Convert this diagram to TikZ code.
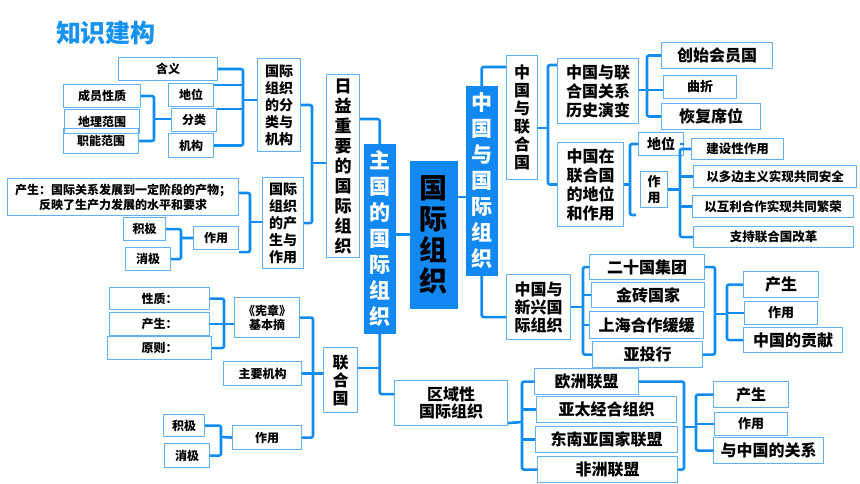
\documentclass[tikz,border=0pt]{standalone}
\usepackage{fontspec}
\setmainfont{Noto Sans CJK SC}
\usepackage{tikz}
\usetikzlibrary{calc}
\definecolor{linkblue}{RGB}{14,140,242}
\definecolor{boxline}{RGB}{96,178,246}
\definecolor{fillblue}{RGB}{18,136,242}
\definecolor{titleblue}{RGB}{22,146,242}
\newcommand{\zfs}[2]{\fontsize{#1}{#2}\selectfont\bfseries}

\begin{document}
\begin{tikzpicture}[x=1pt,y=-1pt,
  box/.style={draw=boxline,line width=1.1pt,inner sep=0pt,anchor=north west,align=center},
  bbox/.style={fill=fillblue,draw=fillblue,inner sep=0pt,anchor=north west,align=center},
  link/.style={draw=linkblue,line width=2.6pt,rounded corners=2pt}]
\useasboundingbox (0,0) rectangle (860,484);
\fill[white] (0,0) rectangle (860,484);

\node[font=\zfs{25}{28},text=titleblue] (title) at (106,33) {知识建构};

% left top
\node[box,minimum width=99,minimum height=23,font=\zfs{12}{14}] (hanyi) at (118,57) {含义};
\node[box,minimum width=45,minimum height=23,font=\zfs{12}{14}] (diwei1) at (168,83) {地位};
\node[box,minimum width=45,minimum height=23,font=\zfs{12}{14}] (fenlei) at (171,108) {分类};
\node[box,minimum width=45,minimum height=24,font=\zfs{12}{14}] (jigou1) at (168,133) {机构};
\node[box,minimum width=77,minimum height=23,font=\zfs{12}{14}] (chengyuan) at (63,84) {成员性质};
\node[box,minimum width=75,minimum height=24,font=\zfs{12}{14}] (dili) at (64,109) {地理范围};
\node[box,minimum width=75,minimum height=25,font=\zfs{12}{14}] (zhineng) at (63,128) {职能范围};
\node[box,minimum width=43,minimum height=93,font=\zfs{14}{17}] (fenleiJG) at (257,58) {国际\\组织\\的分\\类与\\机构};
\node[box,minimum width=33,minimum height=183,font=\zfs{17}{20}] (rizhong) at (326,74) {日\\益\\重\\要\\的\\国\\际\\组\\织};
\node[box,minimum width=231,minimum height=37,font=\zfs{12}{15}] (chansheng1) at (7,178) {产生：国际关系发展到一定阶段的产物；\\反映了生产力发展的水平和要求};
\node[box,minimum width=42,minimum height=23,font=\zfs{12}{14}] (jiji1) at (123,217) {积极};
\node[box,minimum width=45,minimum height=23,font=\zfs{12}{14}] (xiaoji1) at (125,247) {消极};
\node[box,minimum width=45,minimum height=23,font=\zfs{12}{14}] (zuoyong1) at (193,226) {作用};
\node[box,minimum width=41,minimum height=91,font=\zfs{14}{17}] (chanshengZY) at (262,177) {国际\\组织\\的产\\生与\\作用};

% center
\node[bbox,minimum width=31,minimum height=189,text=white,font=\zfs{21}{26}] (zhuguo) at (364,144) {主\\国\\的\\国\\际\\组\\织};
\node[bbox,minimum width=47,minimum height=147,text=black,font=\zfs{28}{31}] (center) at (410,161) {国\\际\\组\\织};
\node[bbox,minimum width=31,minimum height=189,text=white,font=\zfs{21}{26}] (zgyg) at (466,86) {中\\国\\与\\国\\际\\组\\织};
\node[box,minimum width=31,minimum height=124,font=\zfs{16}{18}] (zglhg) at (506,55) {中\\国\\与\\联\\合\\国};
\node[box,minimum width=64,minimum height=65,font=\zfs{16}{18}] (xinxing) at (506,274) {中国与\\新兴国\\际组织};

% left bottom
\node[box,minimum width=34,minimum height=65,font=\zfs{16}{18}] (lhg) at (323,347) {联\\合\\国};
\node[box,minimum width=113,minimum height=45,font=\zfs{16}{17}] (quyu) at (394,380) {区域性\\国际组织};
\node[box,minimum width=100,minimum height=22,font=\zfs{12}{14}] (xingzhi) at (109,287) {性质：};
\node[box,minimum width=100,minimum height=23,font=\zfs{12}{14}] (chansheng2) at (109,312) {产生：};
\node[box,minimum width=104,minimum height=23,font=\zfs{12}{14}] (yuanze) at (107,336) {原则：};
\node[box,minimum width=65,minimum height=40,font=\zfs{12}{14}] (xianzhang) at (234,297) {《宪章》\\基本摘};
\node[box,minimum width=78,minimum height=24,font=\zfs{12}{14}] (zhuyao) at (223,361) {主要机构};
\node[box,minimum width=41,minimum height=22,font=\zfs{12}{14}] (jiji2) at (163,414) {积极};
\node[box,minimum width=45,minimum height=24,font=\zfs{12}{14}] (xiaoji2) at (164,443) {消极};
\node[box,minimum width=69,minimum height=24,font=\zfs{12}{14}] (zuoyong2) at (232,425) {作用};

% right top
\node[box,minimum width=81,minimum height=65,font=\zfs{16}{19}] (lishi) at (557,58) {中国与联\\合国关系\\历史演变};
\node[box,minimum width=111,minimum height=26,font=\zfs{16}{18}] (chuangshi) at (661,42) {创始会员国};
\node[box,minimum width=73,minimum height=23,font=\zfs{13}{15}] (quzhe) at (663,75) {曲折};
\node[box,minimum width=99,minimum height=26,font=\zfs{16}{18}] (huifu) at (661,103) {恢复席位};
\node[box,minimum width=66,minimum height=84,font=\zfs{16}{19}] (diwei) at (557,142) {中国在\\联合国\\的地位\\和作用};
\node[box,minimum width=45,minimum height=23,font=\zfs{14}{16}] (diwei2) at (638,132) {地位};
\node[box,minimum width=27,minimum height=36,font=\zfs{13}{16}] (zuoyong3) at (640,171) {作\\用};
\node[box,minimum width=92,minimum height=21,font=\zfs{12.5}{14}] (jianshe) at (691,138) {建设性作用};
\node[box,minimum width=163,minimum height=22,font=\zfs{12.5}{14}] (duobian) at (693,165) {以多边主义实现共同安全};
\node[box,minimum width=161,minimum height=22,font=\zfs{12.5}{14}] (huli) at (692,195) {以互利合作实现共同繁荣};
\node[box,minimum width=160,minimum height=21,font=\zfs{12.5}{14}] (zhichi) at (693,226) {支持联合国改革};

% right middle
\node[box,minimum width=115,minimum height=25,font=\zfs{16}{18}] (g20) at (589,254) {二十国集团};
\node[box,minimum width=113,minimum height=25,font=\zfs{16}{18}] (jinzhuan) at (591,282) {金砖国家};
\node[box,minimum width=114,minimum height=27,font=\zfs{16}{18}] (shanghe) at (589,311) {上海合作缓缓};
\node[box,minimum width=110,minimum height=26,font=\zfs{16}{18}] (yatouhang) at (592,341) {亚投行};
\node[box,minimum width=75,minimum height=26,font=\zfs{16}{18}] (chansheng3) at (743,271) {产生};
\node[box,minimum width=73,minimum height=23,font=\zfs{13}{15}] (zuoyong4) at (744,301) {作用};
\node[box,minimum width=99,minimum height=25,font=\zfs{16}{18}] (gongxian) at (743,327) {中国的贡献};

% right bottom
\node[box,minimum width=104,minimum height=26,font=\zfs{16}{18}] (oumeng) at (534,368) {欧洲联盟};
\node[box,minimum width=140,minimum height=26,font=\zfs{16}{18}] (yatai) at (536,396) {亚太经合组织};
\node[box,minimum width=142,minimum height=26,font=\zfs{16}{18}] (dongnanya) at (535,426) {东南亚国家联盟};
\node[box,minimum width=140,minimum height=26,font=\zfs{16}{18}] (feizhou) at (537,456) {非洲联盟};
\node[box,minimum width=75,minimum height=26,font=\zfs{15}{18}] (chansheng4) at (713,381) {产生};
\node[box,minimum width=73,minimum height=23,font=\zfs{13}{15}] (zuoyong5) at (714,412) {作用};
\node[box,minimum width=110,minimum height=26,font=\zfs{16}{18}] (guanxi) at (713,437) {与中国的关系};

% joints
\coordinate (jA) at (243,100);
\coordinate (jB) at (154,119);
\coordinate (jC) at (312,163);
\coordinate (jD) at (250,222);
\coordinate (jE) at (181,238);
\coordinate (jH) at (461,197);
\coordinate (jL) at (313,382);
\coordinate (jM) at (224,323);
\coordinate (jN) at (221,437);
\coordinate (jO) at (548,128);
\coordinate (jP) at (647,90);
\coordinate (jQ) at (630,182);
\coordinate (jQb) at (636,215);
\coordinate (jR) at (680,190);
\coordinate (jS) at (583,307);
\coordinate (jT) at (715,314);
\coordinate (jT2) at (727,314);
\coordinate (jU) at (522,422);
\coordinate (jV) at (684,427);
\coordinate (jV2) at (696,427);

% left links
\draw[link] (hanyi.east) -| (jA) |- (jigou1.east);
\draw[link] ([yshift=-2pt]diwei1.north east) -- ([yshift=-2pt]diwei1.north east -| jA);
\draw[link] ([yshift=-1pt]fenlei.north east) -- ([yshift=-1pt]fenlei.north east -| jA);
\draw[link] (jA) -- (jA -| fenleiJG.west);
\draw[link] (chengyuan.east) -| (jB) |- (zhineng.east);
\draw[link] (jB) -- (jB -| fenlei.west);
\draw[link] (fenleiJG.east) -| (jC) |- (chanshengZY.east);
\draw[link] (jC) -- (jC -| rizhong.west);
\draw[link] ([yshift=4pt]chansheng1.east) -| (jD) |- ([yshift=-2pt]zuoyong1.south east);
\draw[link] (jD) -- (jD -| chanshengZY.west);
\draw[link] (jiji1.east) -| (jE) |- (xiaoji1.east);
\draw[link] (jE) -- (zuoyong1.west);

% center links
\draw[link] ([yshift=-45pt]rizhong.north east) -| (zhuguo.north);
\draw[link] (zhuguo.east |- center.west) -- (center.west);
\draw[link] (jH -| center.east) -- (jH -| zgyg.west);
\draw[link] (zgyg.north) |- ([yshift=-12pt]zglhg.north west);
\draw[link] (zgyg.south) |- ([yshift=-10pt]xinxing.west);
\draw[link] (zhuguo.south) |- ([yshift=9pt]quyu.west);
\draw[link] ([yshift=12pt]lhg.east) -- ([yshift=12pt]lhg.east -| zhuguo.south);

% united nations links
\draw[link] (xianzhang.east) -| (jL) |- (zuoyong2.east);
\draw[link] (zhuyao.east) -- (zhuyao.east -| lhg.west);
\draw[link] (xingzhi.east) -| (jM) |- (yuanze.east);
\draw[link] (chansheng2.east) -- (chansheng2.east -| xianzhang.west);
\draw[link] (jiji2.east) -| (jN) |- (xiaoji2.east);
\draw[link] (jN) -- (zuoyong2.west);

% right links
\draw[link] ([yshift=-7pt]lishi.north west) -| (jO) |- (diwei.west);
\draw[link] (jO -| zglhg.east) -- (jO);
\draw[link] (chuangshi.west) -| (jP) |- (huifu.west);
\draw[link] (jP -| lishi.east) -- (jP -| quzhe.west);
\draw[link] (diwei2.west) -| (jQ) |- (jQb);
\draw[link] (diwei.east) -- (diwei.east -| jQ);
\draw[link] (jianshe.west) -| (jR) |- (zhichi.west);
\draw[link] (duobian.west) -- (duobian.west -| jR);
\draw[link] (huli.west) -- (huli.west -| jR);
\draw[link] (diwei2.east) -- (diwei2.east -| jR);
\draw[link] (zuoyong3.east) -- (zuoyong3.east -| jR);

\draw[link] (g20.west) -| (jS) |- (yatouhang.west);
\draw[link] (jinzhuan.west) -- (jinzhuan.west -| jS);
\draw[link] (shanghe.west) -- (shanghe.west -| jS);
\draw[link] (xinxing.east) -- (xinxing.east -| jS);
\draw[link] (g20.east) -| (jT) |- (yatouhang.east);
\draw[link] (jT) -- (jT2);
\draw[link] (chansheng3.west) -| (jT2) |- (gongxian.west);
\draw[link] (zuoyong4.west -| jT2) -- (zuoyong4.west);

\draw[link] (oumeng.west) -| (jU) |- (feizhou.west);
\draw[link] (yatai.west) -- (yatai.west -| jU);
\draw[link] (dongnanya.west) -- (dongnanya.west -| jU);
\draw[link] ([yshift=3pt]quyu.south east) -- (jU);
\draw[link] (oumeng.east) -| (jV) |- (feizhou.east);
\draw[link] (jV) -- (jV2);
\draw[link] (chansheng4.west) -| (jV2) |- (guanxi.west);
\draw[link] (zuoyong5.west -| jV2) -- (zuoyong5.west);
\end{tikzpicture}
\end{document}
